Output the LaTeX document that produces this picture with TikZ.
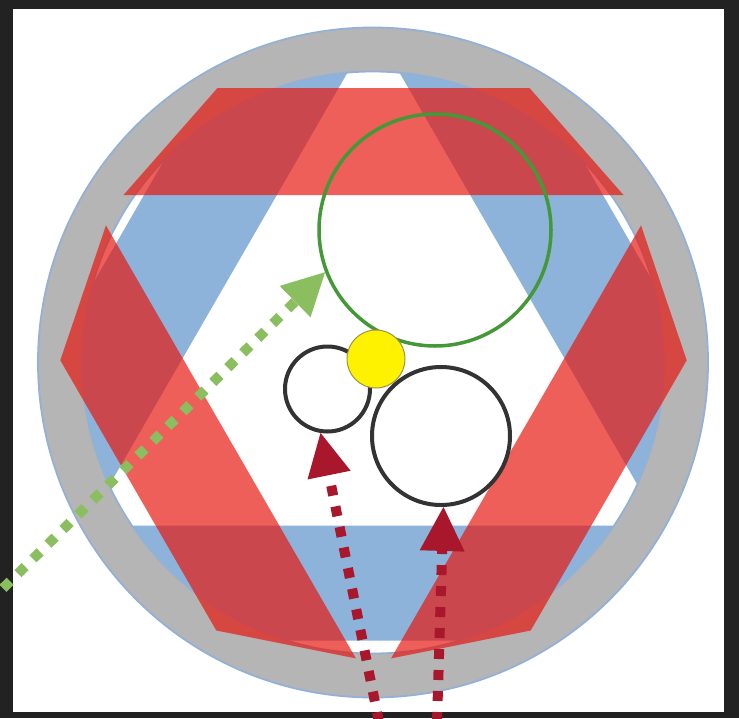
\documentclass[tikz,border=0pt]{standalone}
\usetikzlibrary{calc}
\definecolor{bgdark}{HTML}{222222}
\definecolor{ringgray}{HTML}{B5B5B5}
\definecolor{ringline}{HTML}{93B1D6}
\definecolor{bandblue}{RGB}{141,179,219}
\definecolor{bandred}{RGB}{232,20,12}
\definecolor{circgreen}{RGB}{68,152,55}
\definecolor{arrowgreen}{RGB}{139,190,95}
\definecolor{arrowred}{RGB}{168,23,43}
\definecolor{circdark}{HTML}{333333}
\tikzset{
  bluebar/.style={fill=bandblue},
  redbar/.style={fill=bandred, fill opacity=0.68},
  greencirc/.style={circle, draw=circgreen, line width=3.5pt, minimum size=232pt, inner sep=0pt},
  darkcirc/.style={circle, draw=circdark, line width=4pt, inner sep=0pt},
  yellowdot/.style={circle, fill=yellow, draw=yellow!55!black, line width=1pt, minimum size=58pt, inner sep=0pt},
  dotline/.style={line width=10pt, dash pattern=on 10pt off 11pt, line cap=butt}
}
\begin{document}
\begin{tikzpicture}[x=1pt,y=-1pt]
\useasboundingbox (0,0) rectangle (739,718);
\fill[bgdark] (0,0) rectangle (739,718);
\fill[white] (13,9) rectangle (724,712);
% blue upward triangle of three bars
\foreach \a in {60,180,300}{
  \fill[bluebar, shift={(373.5,359.6)}, rotate=\a] (-147.7,-281) -- (147.7,-281) -- (248.8,-166) -- (-248.8,-166) -- cycle;
}
% gray ring
\fill[ringgray, even odd rule] (373,362.5) circle[radius=335pt] (373,362.5) circle[radius=291pt];
\draw[ringline, line width=1.8pt] (373,362.5) circle[radius=335pt] (373,362.5) circle[radius=291pt];
% red downward triangle of three bars
\foreach \a in {0,120,240}{
  \fill[redbar, shift={(373.5,359.6)}, rotate=\a] (-156,-271.6) -- (156,-271.6) -- (250,-164.6) -- (-250,-164.6) -- cycle;
}
% circles
\node[greencirc] (gc) at (435,230) {};
\node[darkcirc, minimum size=85pt] (sc) at (327.5,389) {};
\node[darkcirc, minimum size=138pt] (bc) at (441,436) {};
\node[yellowdot] (yd) at (376,359) {};
% arrows
\coordinate (gs) at (-12,603);
\coordinate (r1s) at (379,722);
\coordinate (r2s) at (437,722);
\path (gc.201) coordinate (gt);
\path (sc.261) coordinate (r1t);
\path (bc.272) coordinate (r2t);
\coordinate (gb) at ($(gt)!42pt!(gs)$);
\coordinate (r1b) at ($(r1t)!43pt!(r1s)$);
\coordinate (r2b) at ($(r2t)!44pt!(r2s)$);
\draw[dotline, draw=arrowgreen] (gs) -- (gb);
\fill[arrowgreen] (gt) -- ($(gb)!22pt!90:(gt)$) -- ($(gb)!22pt!-90:(gt)$) -- cycle;
\draw[dotline, draw=arrowred] (r1s) -- (r1b);
\fill[arrowred] (r1t) -- ($(r1b)!22pt!90:(r1t)$) -- ($(r1b)!22pt!-90:(r1t)$) -- cycle;
\draw[dotline, draw=arrowred] (r2s) -- (r2b);
\fill[arrowred] (r2t) -- ($(r2b)!22.5pt!90:(r2t)$) -- ($(r2b)!22.5pt!-90:(r2t)$) -- cycle;
\end{tikzpicture}
\end{document}
